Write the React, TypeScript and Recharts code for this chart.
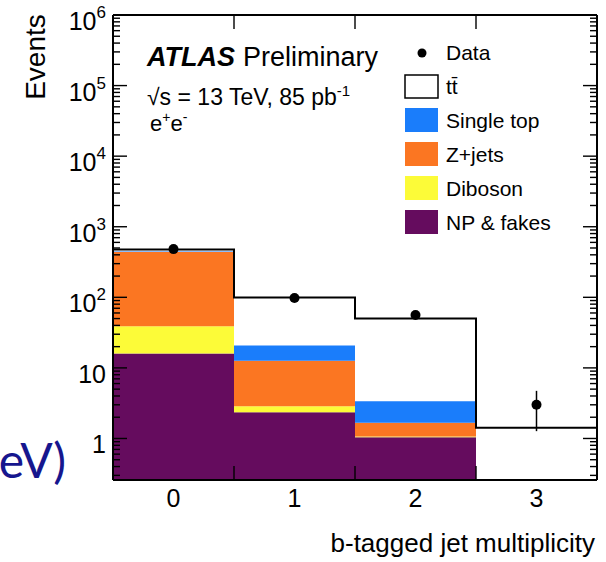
import { ComposedChart, Area, Line, Scatter, ErrorBar, XAxis, YAxis } from "recharts";

// b-tagged jet multiplicity bins
const bins = ["0", "1", "2", "3"];

// stacked predictions per bin (events)
const npFakes = [16, 2.35, 1.04, 0];
const diboson = [23, 0.5, 0.03, 0];
const zJets = [401, 9.75, 0.6, 0];
const singleTop = [6, 8.2, 1.71, 0];
const ttbar = [29, 78.2, 46.6, 1.42];

// data
const dataCounts = [482, 98, 56, 3];
const dataErr = [22, 9.9, 7.5, 1.73];

const YMIN = 0.258;
const YMAX = 1e6;
const XMIN = -0.5;
const XMAX = 3.5;
const FONT = "'Liberation Sans', Arial, Helvetica, sans-serif";

// log ticks: majors at powers of ten, minors in between
const yTicks: number[] = [];
for (let d = -1; d <= 5; d++) {
  for (let m = 1; m <= 9; m++) {
    const v = m * Math.pow(10, d);
    if (v >= YMIN && v <= YMAX) yTicks.push(v);
  }
}
yTicks.push(YMAX);

const xLabelTicks = [0, 1, 2, 3];
const edgeTicks = [0.5, 1.5, 2.5];

function isMajor(v: number) {
  const e = Math.round(Math.log10(v));
  return Math.abs(v / Math.pow(10, e) - 1) < 1e-6;
}

// one row per bin edge so stepAfter draws histogram steps
const edgeRows = [0, 1, 2, 3, 4].map((i) => {
  const b = Math.min(i, bins.length - 1);
  let cum = 0;
  const range = (v: number) => {
    const lo = Math.max(cum, YMIN);
    cum += v;
    return [lo, Math.max(cum, YMIN)];
  };
  const np = range(npFakes[b]);
  const dib = range(diboson[b]);
  const zj = range(zJets[b]);
  const st = range(singleTop[b]);
  cum += ttbar[b];
  return { x: i - 0.5, np, dib, zj, st, total: cum };
});

const dataRows = bins.map((_, i) => ({ x: i, y: dataCounts[i], err: dataErr[i] }));

// frame tick marks, placed through the chart's own scales
const leftMarks = yTicks.map((v) => ({ x: XMIN, y: v, major: isMajor(v) }));
const rightMarks = yTicks.map((v) => ({ x: XMAX, y: v, major: isMajor(v) }));
const bottomMarks = edgeTicks.map((v) => ({ x: v, y: YMIN }));
const topMarks = edgeTicks.map((v) => ({ x: v, y: YMAX }));

const legendItems = [
  { name: "Single top", color: "#1a7dfb" },
  { name: "Z+jets", color: "#fb7622" },
  { name: "Diboson", color: "#fcfb38" },
  { name: "NP & fakes", color: "#650c5e" },
];

const TW = 1.4; // tick mark thickness

const leftMark = (p: any) => {
  const len = p.payload.major ? 14 : 7;
  return <rect x={p.cx} y={p.cy - TW / 2} width={len} height={TW} fill="#000" />;
};
const rightMark = (p: any) => {
  const len = p.payload.major ? 14 : 7;
  return <rect x={p.cx - len} y={p.cy - TW / 2} width={len} height={TW} fill="#000" />;
};
const bottomMark = (p: any) => <rect x={p.cx - TW / 2} y={p.cy - 14} width={TW} height={14} fill="#000" />;
const topMark = (p: any) => <rect x={p.cx - TW / 2} y={p.cy} width={TW} height={14} fill="#000" />;

function LeftLabel(props: any) {
  const { x, y, payload } = props;
  const e = Math.round(Math.log10(payload.value));
  return (
    <text x={x - 7} y={y + 15} textAnchor="end" fontSize={25} fontFamily={FONT} fill="#000">
      {e === 0 ? "1" : "10"}
      {e >= 2 && (
        <tspan dy={-12} fontSize={17}>
          {e}
        </tspan>
      )}
    </text>
  );
}

function BottomLabel(props: any) {
  const { x, y, payload } = props;
  return (
    <text x={x} y={y + 27} textAnchor="middle" fontSize={25} fontFamily={FONT} fill="#000">
      {bins[payload.value]}
    </text>
  );
}

const majorTicks = yTicks.filter(isMajor);

export default function App() {
  return (
    <div style={{ position: "absolute", left: 0, top: 0 }}>
      <ComposedChart
        width={606}
        height={562}
        data={edgeRows}
        margin={{ top: 14, right: 8, bottom: 52, left: 53 }}
        style={{ fontFamily: FONT }}
      >
        <XAxis
          xAxisId="bottom"
          dataKey="x"
          type="number"
          domain={[XMIN, XMAX]}
          allowDataOverflow
          ticks={xLabelTicks}
          interval={0}
          tickSize={0}
          tickMargin={0}
          tick={BottomLabel}
          height={30}
          axisLine={{ stroke: "#000", strokeWidth: 2 }}
          tickLine={false}
        />
        <XAxis
          xAxisId="top"
          orientation="top"
          type="number"
          domain={[XMIN, XMAX]}
          allowDataOverflow
          tick={false}
          height={1}
          axisLine={{ stroke: "#000", strokeWidth: 2 }}
          tickLine={false}
        />
        <YAxis
          yAxisId="left"
          dataKey="y"
          type="number"
          scale="log"
          domain={[YMIN, YMAX]}
          allowDataOverflow
          ticks={majorTicks}
          interval={0}
          tickSize={0}
          tickMargin={0}
          tick={LeftLabel}
          width={60}
          axisLine={{ stroke: "#000", strokeWidth: 2 }}
          tickLine={false}
        />
        <YAxis
          yAxisId="right"
          orientation="right"
          type="number"
          scale="log"
          domain={[YMIN, YMAX]}
          allowDataOverflow
          tick={false}
          width={1}
          axisLine={{ stroke: "#000", strokeWidth: 2 }}
          tickLine={false}
        />
        <Area xAxisId="bottom" yAxisId="left" type="stepAfter" dataKey="np" fill="#650c5e" fillOpacity={1} stroke="none" isAnimationActive={false} />
        <Area xAxisId="bottom" yAxisId="left" type="stepAfter" dataKey="dib" fill="#fcfb38" fillOpacity={1} stroke="none" isAnimationActive={false} />
        <Area xAxisId="bottom" yAxisId="left" type="stepAfter" dataKey="zj" fill="#fb7622" fillOpacity={1} stroke="none" isAnimationActive={false} />
        <Area xAxisId="bottom" yAxisId="left" type="stepAfter" dataKey="st" fill="#1a7dfb" fillOpacity={1} stroke="none" isAnimationActive={false} />
        <Line xAxisId="bottom" yAxisId="left" type="stepAfter" dataKey="total" stroke="#000" strokeWidth={2} dot={false} isAnimationActive={false} />

        {/* frame tick marks */}
        <Scatter xAxisId="bottom" yAxisId="left" data={leftMarks} dataKey="y" isAnimationActive={false} shape={leftMark} />
        <Scatter xAxisId="bottom" yAxisId="left" data={rightMarks} dataKey="y" isAnimationActive={false} shape={rightMark} />
        <Scatter xAxisId="bottom" yAxisId="left" data={bottomMarks} dataKey="y" isAnimationActive={false} shape={bottomMark} />
        <Scatter xAxisId="bottom" yAxisId="left" data={topMarks} dataKey="y" isAnimationActive={false} shape={topMark} />

        <Scatter
          xAxisId="bottom"
          yAxisId="left"
          data={dataRows}
          dataKey="y"
          fill="#000"
          isAnimationActive={false}
          shape={(p: any) => <circle cx={p.cx} cy={p.cy} r={5} fill="#000" />}
        >
          <ErrorBar dataKey="err" direction="y" width={0} stroke="#000" strokeWidth={1.5} />
        </Scatter>

        {/* axis titles and annotations */}
        <text x={45} y={57} transform="rotate(-90 45 57)" textAnchor="middle" fontSize={28} fontFamily={FONT} fill="#000">
          Events
        </text>
        <text x={595} y={552} textAnchor="end" fontSize={26} fontFamily={FONT} fill="#000">
          b-tagged jet multiplicity
        </text>
        <text x={66} y={478} textAnchor="end" fontSize={48} fill="#16168e" fontFamily="Lato, 'Open Sans', sans-serif">
          eV)
        </text>
        <text x={147} y={66} fontSize={27} fontFamily={FONT} fill="#000">
          <tspan fontWeight="bold" fontStyle="italic">ATLAS</tspan>
          <tspan dx={8}>Preliminary</tspan>
        </text>
        <text x={147} y={105} fontSize={23} fontFamily={FONT} fill="#000">
          √s = 13 TeV, 85 pb
          <tspan dy={-9} fontSize={15}>-1</tspan>
        </text>
        <text x={150} y={131} fontSize={22} fontFamily={FONT} fill="#000">
          e<tspan dy={-9} fontSize={14}>+</tspan>
          <tspan dy={9}>e</tspan>
          <tspan dy={-9} fontSize={14}>-</tspan>
        </text>

        {/* legend */}
        <circle cx={422} cy={53} r={4.5} fill="#000" />
        <text x={446} y={60} fontSize={21} fontFamily={FONT} fill="#000">Data</text>
        <rect x={405} y={75} width={33} height={23} fill="#fff" stroke="#000" strokeWidth={1.5} />
        <text x={446} y={94} fontSize={21} fontFamily={FONT} fill="#000">tt̄</text>
        {legendItems.map((it, i) => (
          <g key={it.name}>
            <rect x={405} y={108 + i * 34} width={33} height={24} fill={it.color} />
            <text x={446} y={128 + i * 34} fontSize={21} fontFamily={FONT} fill="#000">
              {it.name}
            </text>
          </g>
        ))}
      </ComposedChart>
    </div>
  );
}
